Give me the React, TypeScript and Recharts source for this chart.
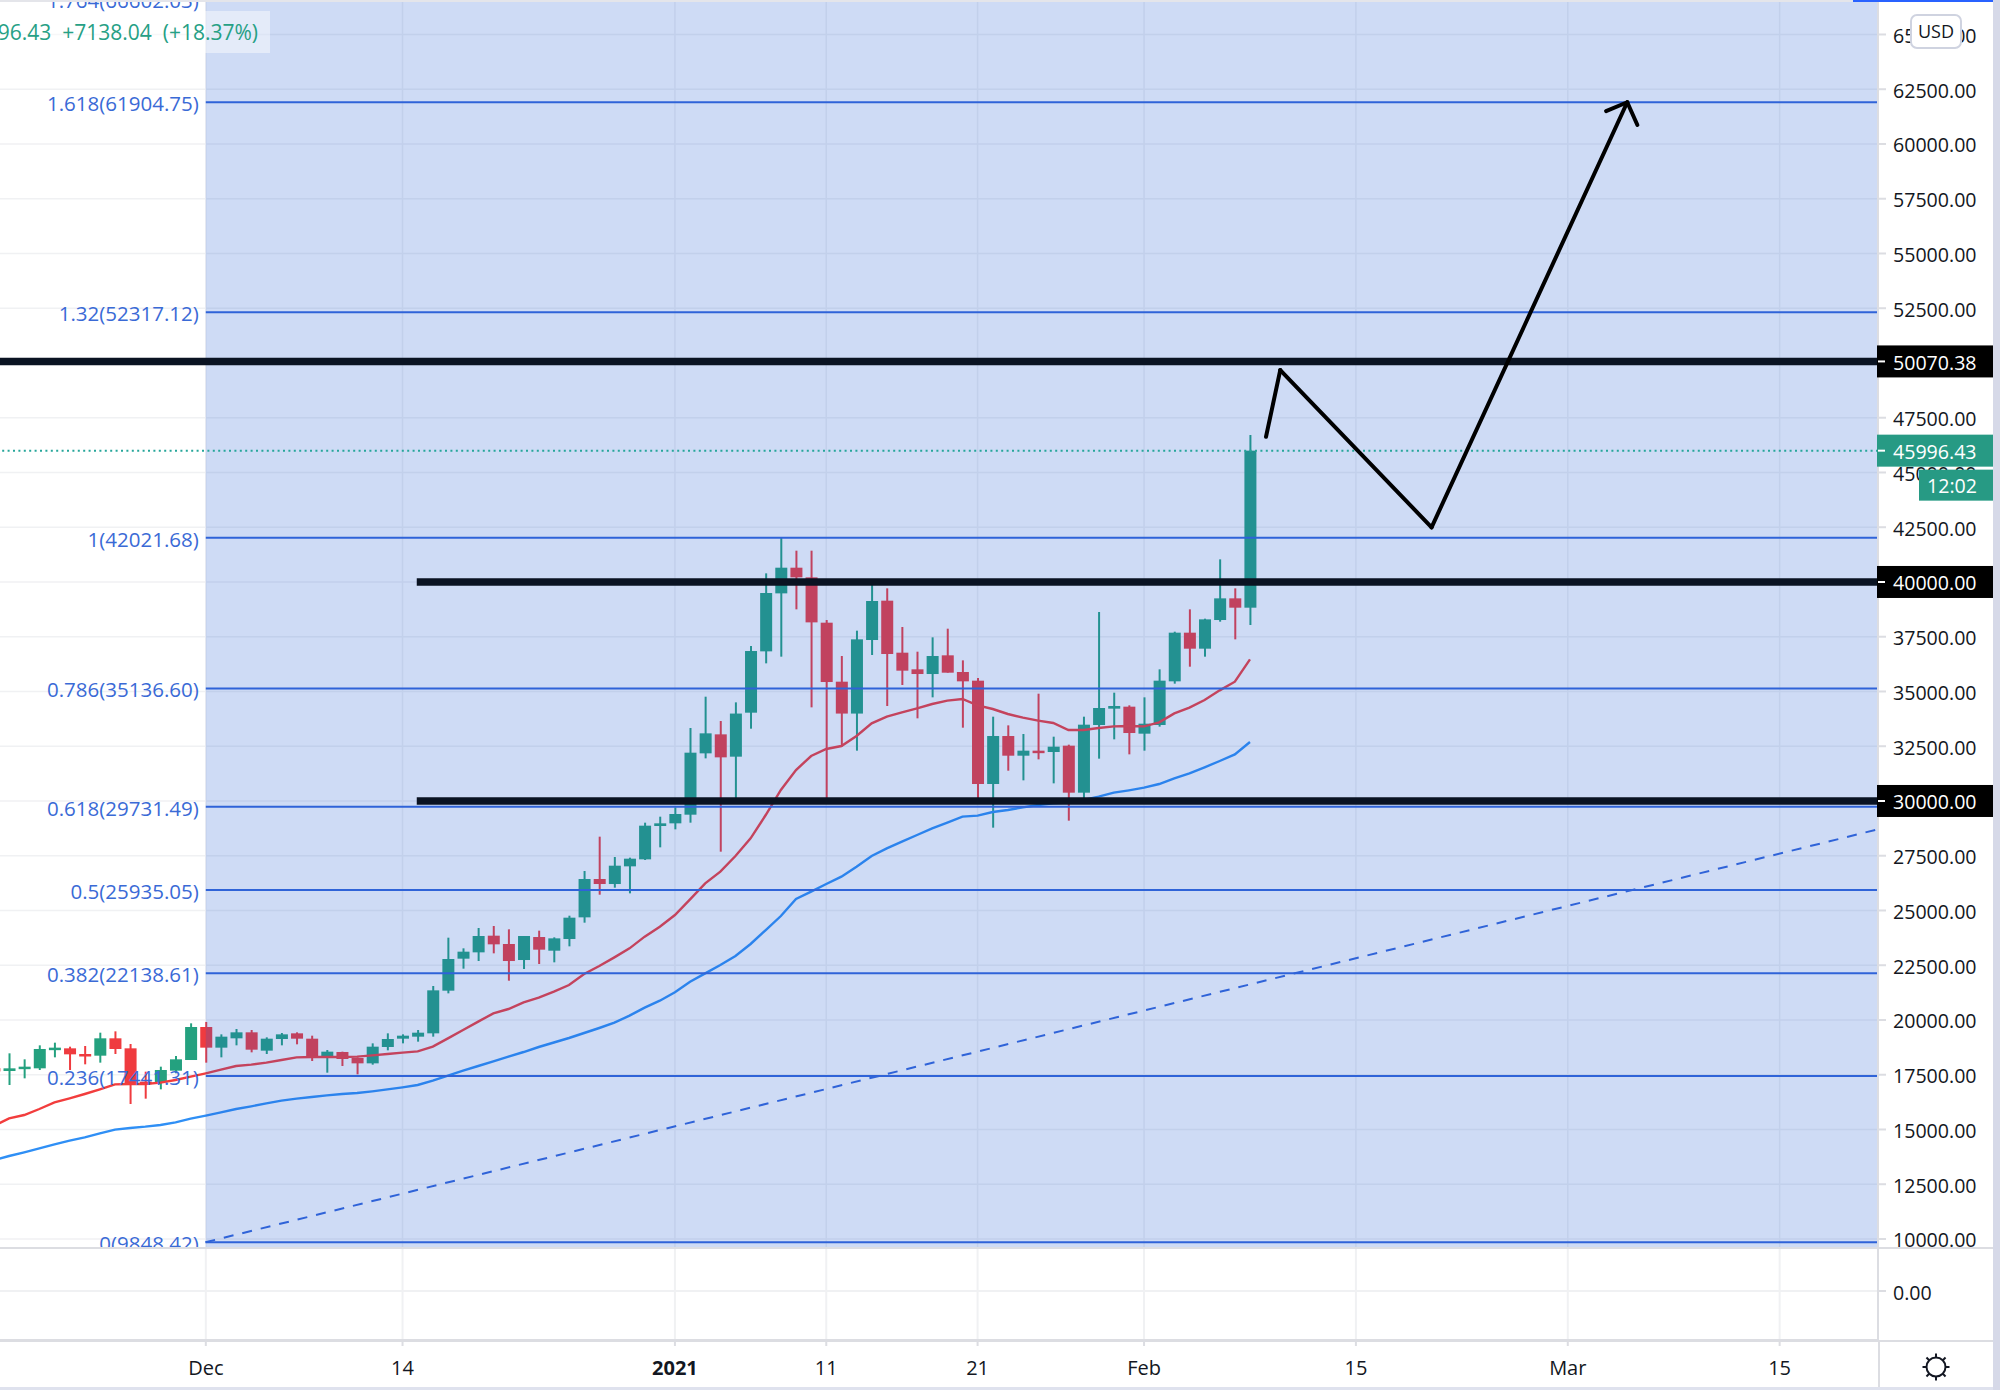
import { ComposedChart, Bar, Line, XAxis, YAxis, CartesianGrid, ReferenceArea, ReferenceLine } from "recharts"

// daily candles, first row = 17 Nov 2020 (just off the left edge), index 0 = 18 Nov 2020
const opens = [17800,17670,17762,17792,18659,18705,18446,18370,19162,18705,17183,17138,17685,18172,19679,18736,19162,19436,18599,19131,19390,19146,18325,18538,18264,18020,18766,19146,19238,19390,21338,22799,23088,23849,23469,22738,23788,23164,23697,24686,26437,26208,27015,27335,28857,28979,29374,32175,33042,32023,34032,36832,39480,40652,40211,38141,35447,33991,37350,39146,36771,36011,35797,36650,35889,35493,30775,32966,32068,32297,32236,32525,30379,33469,34215,34306,33073,33469,35463,37685,36954,38263,39252,38826]
const highs = [18000,18477,18203,18842,18964,18781,18812,19420,19481,18903,17640,17868,18355,19847,19908,19344,19588,19542,19207,19405,19436,19283,18629,18553,18294,18933,19390,19344,19542,21551,23758,23271,24200,24291,24138,23834,24078,23773,24762,26802,28370,27441,27411,29009,29283,29709,33332,34762,33651,34503,37076,40394,42037,41429,41429,38263,36619,37776,39861,39709,37943,36817,37472,37867,36421,35615,33849,33453,33058,34899,32936,32571,33849,38628,34945,34367,34732,36011,37730,38750,38324,41033,39709,46710]
const lows = [17200,17031,17335,17716,18294,17716,17975,18051,18446,16164,16407,16833,17564,18172,18051,18294,18842,18522,18446,18842,18888,18127,17594,17898,17518,17959,18614,18933,19010,19238,21216,22343,22693,23043,21795,22327,22556,22632,23362,24443,25721,26041,25782,27304,27883,28705,29009,31946,27685,29968,33301,36284,36589,38750,34275,29892,32479,32297,36665,34336,35295,33773,34732,35858,33347,30120,28781,31383,30942,31901,30805,29101,30120,31932,32814,32129,32297,33393,35356,36132,36589,38187,37380,38035]
const closes = [17650,17792,17868,18675,18736,18431,18355,19162,18675,17107,17077,17716,18203,19679,18736,19238,19436,18644,19146,19344,19146,18294,18553,18218,18020,18781,19131,19283,19420,21353,22784,23119,23834,23454,22692,23834,23210,23727,24671,26437,26208,27045,27365,28872,28979,29405,32205,33088,31992,33991,36847,39496,40652,40211,38156,35432,33991,37380,39131,36711,35950,35797,36619,35858,35463,30775,32966,32068,32297,32221,32480,30379,33484,34245,34336,33103,33529,35493,37685,36954,38293,39252,38826,45996.43]

const redMa = [15159,15509,15661,15935,16240,16422,16620,16833,17061,17077,17077,17138,17260,17411,17564,17731,17898,17959,18051,18172,18294,18309,18309,18309,18325,18386,18446,18507,18568,18781,19162,19542,19923,20303,20501,20805,21018,21292,21597,22099,22464,22860,23271,23804,24260,24793,25508,26239,26772,27487,28294,29359,30501,31414,32053,32373,32510,32966,33544,33849,34047,34230,34428,34580,34656,34367,34199,33971,33803,33667,33560,33240,33240,33332,33408,33423,33408,33590,34001,34260,34610,35052,35447,36467]
const blueMa = [13606,13789,13956,14139,14322,14489,14641,14824,14991,15068,15128,15205,15326,15494,15631,15783,15935,16057,16194,16316,16407,16483,16559,16620,16666,16742,16833,16925,17031,17229,17457,17685,17898,18112,18330,18537,18766,18971,19177,19405,19633,19877,20197,20562,20881,21262,21749,22129,22510,22921,23469,24108,24747,25524,25858,26209,26543,27000,27487,27837,28142,28446,28751,29009,29283,29329,29496,29588,29709,29816,29892,29923,30044,30197,30379,30486,30607,30775,31034,31262,31536,31825,32129,32693]

const fibLevels = [0, 0.236, 0.382, 0.5, 0.618, 0.786, 1, 1.32, 1.618, 1.764]
const fibPrices = [9848.42, 17441.31, 22138.61, 25935.05, 29731.49, 35136.6, 42021.68, 52317.12, 61904.75, 66602.03]

const priceTicks = [10000,12500,15000,17500,20000,22500,25000,27500,32500,35000,37500,42500,45000,47500,52500,55000,57500,60000,62500,65000]
const gridPrices = [...priceTicks, 30000, 40000]
const tagPrices = [30000, 40000, 50070.38, 45996.43]

const dayTicks = [13, 26, 44, 54, 64, 75, 89, 103, 117]
const dayLabels = ["Dec", "14", "2021", "11", "21", "Feb", "15", "Mar", "15"]

// hand drawn arrow: [day index, price]
const arrowPath = [[83.06,46632],[84,49677],[94,42495],[106.93,61905]]
const arrowHeads = [[105.53,61503],[107.6,60865]]
const trendLine = [[12.97,9848.42],[123.5,28706]]

const DAY_MIN = -0.6
const DAY_MAX = 123.5
const PRICE_MIN = 9588
const PRICE_MAX = 66574

const FONT = "'Open Sans', sans-serif"
const FIB_BLUE = "#2f63d8"
const GREEN = "#24a17f"
const RED = "#ef3b3f"
const GRID = "#f0f1f3"
const INK = "#131722"
const LINE_BLACK = "#0a1322"

const candles = opens.map((o, k) => ({
  i: k - 1,
  o,
  c: closes[k],
  range: [lows[k], highs[k]],
  redMa: redMa[k],
  blueMa: blueMa[k],
  zero: 0,
}))

const Candle = ({ x, y, width, height, payload }: any) => {
  const [low, high] = payload.range
  const py = (v: number) => y + (height * (high - v)) / (high - low)
  const color = payload.c >= payload.o ? GREEN : RED
  const cx = x + width / 2
  const top = py(Math.max(payload.o, payload.c))
  const bottom = py(Math.min(payload.o, payload.c))
  return (
    <g>
      <line x1={cx} x2={cx} y1={y} y2={y + height} stroke={color} strokeWidth={2} />
      <rect x={x} y={top} width={width} height={Math.max(bottom - top, 2.5)} fill={color} />
    </g>
  )
}

const PriceTick = ({ x, y, payload }: any) => {
  const v = payload.value
  const isTag = tagPrices.includes(v)
  if (!isTag) {
    return (
      <g>
        <line x1={x} x2={x + 8} y1={y} y2={y} stroke="#dcdde2" strokeWidth={2} />
        <text x={x + 15} y={y + 1} fontFamily={FONT} fontSize={19.6} fill={INK} dominantBaseline="central">
          {v.toFixed(2)}
        </text>
      </g>
    )
  }
  const bg = v === 45996.43 ? "#279a84" : "#000000"
  return (
    <g>
      <rect x={x - 1} y={y - 16} width={116} height={32} fill={bg} />
      <line x1={x} x2={x + 7} y1={y} y2={y} stroke="#ffffff" strokeWidth={2} />
      <text x={x + 15} y={y + 1} fontFamily={FONT} fontSize={19.6} fill="#ffffff" dominantBaseline="central">
        {v.toFixed(2)}
      </text>
      {v === 45996.43 && (
        <g>
          <rect x={x + 41} y={y + 19} width={74} height={31} fill={bg} />
          <text x={x + 49} y={y + 35} fontFamily={FONT} fontSize={19.6} fill="#ffffff" dominantBaseline="central">
            12:02
          </text>
        </g>
      )}
    </g>
  )
}

const DayTick = ({ x, y, payload }: any) => {
  const label = dayLabels[dayTicks.indexOf(payload.value)]
  return (
    <text x={x} y={y + 21} textAnchor="middle" fontFamily={FONT} fontSize={20}
      fontWeight={label === "2021" ? 700 : 400} fill={INK} dominantBaseline="central">
      {label}
    </text>
  )
}

const FibLabel = ({ viewBox, text }: any) => (
  <text x={viewBox.x - 7} y={viewBox.y + 1} textAnchor="end" fontFamily={FONT} fontSize={20.5}
    fill="#3a6ad6" dominantBaseline="central">
    {text}
  </text>
)

const Gear = () => (
  <svg width="40" height="40" viewBox="-20 -20 40 40" style={{ position: "absolute", left: 1916, top: 1347 }}>
    <circle r="9.5" fill="none" stroke={INK} strokeWidth="2" />
    {[0, 45, 90, 135, 180, 225, 270, 315].map(a => (
      <line key={a} x1="0" x2="0" y1="-10" y2="-13.5" stroke={INK} strokeWidth="2" transform={`rotate(${a})`} />
    ))}
  </svg>
)

const chrome = (left: number, top: number, width: number, height: number, background: string) => (
  <div style={{ position: "absolute", left, top, width, height, background }} />
)

export default function App() {
  return (
    <div style={{ position: "absolute", left: 0, top: 0, width: 2000, height: 1390, overflow: "hidden", background: "#fff" }}>
      <div style={{ position: "absolute", left: 0, top: 0 }}>
        <ComposedChart width={1993} height={1248} data={candles} margin={{ top: 0, right: 0, bottom: 0, left: 0 }}>
          <CartesianGrid stroke={GRID} strokeWidth={1.5} horizontalValues={gridPrices} verticalValues={dayTicks} />
          <XAxis dataKey="i" type="number" hide domain={[DAY_MIN, DAY_MAX]} ticks={dayTicks} allowDataOverflow />
          <YAxis orientation="right" width={115} domain={[PRICE_MIN, PRICE_MAX]} allowDataOverflow interval={0}
            ticks={[...priceTicks, ...tagPrices]} tick={<PriceTick />} tickLine={false} tickSize={0} tickMargin={0}
            axisLine={{ stroke: "#dcdde2", strokeWidth: 2 }} />

          <Bar dataKey="range" shape={<Candle />} barSize={12} isAnimationActive={false} />
          <Line dataKey="redMa" stroke="#f23d3d" strokeWidth={2.4} dot={false} isAnimationActive={false} />
          <Line dataKey="blueMa" stroke="#2f8ff5" strokeWidth={2.4} dot={false} isAnimationActive={false} />

          <ReferenceArea x1={13} x2={DAY_MAX} y1={PRICE_MIN} y2={PRICE_MAX} fill="rgb(30,90,210)" fillOpacity={0.22} stroke="none" zIndex={450} />

          {fibLevels.map((lvl, k) => (
            <ReferenceLine key={lvl} ifOverflow="visible" stroke={FIB_BLUE} strokeWidth={2} zIndex={460}
              segment={[{ x: 13, y: fibPrices[k] }, { x: DAY_MAX - 0.05, y: fibPrices[k] }]}
              label={<FibLabel text={`${lvl}(${fibPrices[k].toFixed(2)})`} />} />
          ))}

          <ReferenceLine y={45996.43} stroke="#26a69a" strokeWidth={2} strokeDasharray="2 3.4" zIndex={470} />
          <ReferenceLine segment={trendLine.map(([x, y]) => ({ x, y }))} stroke={FIB_BLUE} strokeWidth={2} strokeDasharray="10 9" zIndex={470} />

          <ReferenceLine y={50070.38} stroke={LINE_BLACK} strokeWidth={7.5} zIndex={480} />
          <ReferenceLine segment={[{ x: 26.94, y: 40000 }, { x: DAY_MAX, y: 40000 }]} stroke={LINE_BLACK} strokeWidth={7.5} zIndex={480} />
          <ReferenceLine segment={[{ x: 26.94, y: 30000 }, { x: DAY_MAX, y: 30000 }]} stroke={LINE_BLACK} strokeWidth={7.5} zIndex={480} />

          {arrowPath.slice(1).map(([x, y], k) => (
            <ReferenceLine key={k} stroke="#000" strokeWidth={4} strokeLinecap="round" zIndex={490}
              segment={[{ x: arrowPath[k][0], y: arrowPath[k][1] }, { x, y }]} />
          ))}
          {arrowHeads.map(([x, y], k) => (
            <ReferenceLine key={k} stroke="#000" strokeWidth={4} strokeLinecap="round" zIndex={490}
              segment={[{ x: arrowPath[3][0], y: arrowPath[3][1] }, { x, y }]} />
          ))}
        </ComposedChart>
      </div>

      <div style={{ position: "absolute", left: 0, top: 1248 }}>
        <ComposedChart width={1993} height={142} data={candles} margin={{ top: 0, right: 0, bottom: 0, left: 0 }}>
          <CartesianGrid stroke={GRID} strokeWidth={2} horizontal={false} verticalValues={dayTicks} />
          <XAxis dataKey="i" type="number" height={50} domain={[DAY_MIN, DAY_MAX]} ticks={dayTicks} interval={0} allowDataOverflow
            tick={<DayTick />} tickSize={6} tickMargin={0} tickLine={{ stroke: "#dcdde2", strokeWidth: 2 }}
            axisLine={{ stroke: "#dcdde2", strokeWidth: 2 }} />
          <YAxis orientation="right" width={115} domain={[-49, 43]} allowDataOverflow ticks={[0]} interval={0} tick={<PriceTick />}
            tickLine={false} tickSize={0} tickMargin={0} axisLine={{ stroke: "#dcdde2", strokeWidth: 2 }} />
          <Line dataKey="zero" stroke={GRID} strokeWidth={2} dot={false} isAnimationActive={false} />
          <ReferenceLine y={0} stroke={GRID} strokeWidth={2} />
        </ComposedChart>
      </div>

      {/* page furniture round the chart */}
      {chrome(0, 0, 1853, 2, "#e4e5ea")}
      {chrome(1853, 0, 140, 2, "#2962ff")}
      {chrome(0, 1247, 1993, 2, "#dcdde2")}
      {chrome(1878, 1340, 2, 47, "#dcdde2")}
      {chrome(0, 1340, 1993, 2, "#dcdde2")}
      {chrome(0, 1387, 1993, 3, "#dfe2ee")}
      {chrome(1993, 0, 7, 1390, "#d6d9e8")}

      <div style={{
        position: "absolute", left: 0, top: 11, width: 258, height: 42, paddingRight: 12, lineHeight: "42px",
        background: "rgba(255,255,255,0.45)", color: "#26a085", fontFamily: FONT, fontSize: 21,
        whiteSpace: "nowrap", overflow: "hidden", direction: "rtl", textAlign: "left",
      }}>
        <span style={{ direction: "ltr", unicodeBidi: "embed" }}>45996.43&nbsp;&nbsp;+7138.04&nbsp;&nbsp;(+18.37%)</span>
      </div>

      <div style={{
        position: "absolute", left: 1910, top: 14, width: 48, height: 31, border: "2px solid #cfd3e0", borderRadius: 7,
        background: "#fff", color: INK, fontFamily: FONT, fontSize: 18, lineHeight: "31px", textAlign: "center",
      }}>USD</div>

      <Gear />
    </div>
  )
}
